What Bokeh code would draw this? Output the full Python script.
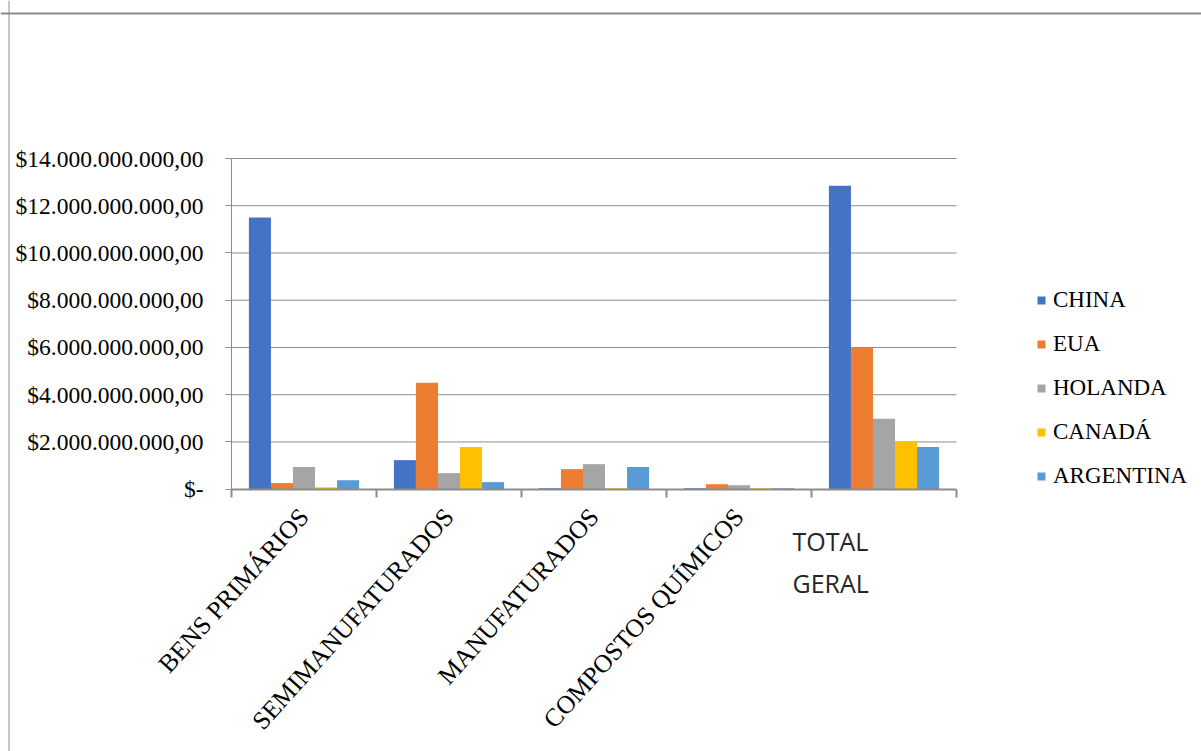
from bokeh.plotting import figure
from bokeh.models import (ColumnDataSource, Range1d, LinearAxis, FixedTicker,
                          Legend, LegendItem, Label, Span)
from bokeh.transform import dodge
from bokeh.embed import file_html
from bokeh.resources import INLINE
import math

# Export values by product group (US$)
categories = ["BENS PRIMÁRIOS", "SEMIMANUFATURADOS", "MANUFATURADOS", "COMPOSTOS QUÍMICOS", "TOTAL GERAL"]
china = [11.50e9, 1.23e9, 0.04e9, 0.04e9, 12.85e9]
eua = [0.26e9, 4.51e9, 0.85e9, 0.21e9, 6.00e9]
holanda = [0.94e9, 0.68e9, 1.06e9, 0.17e9, 2.98e9]
canada = [0.08e9, 1.79e9, 0.04e9, 0.04e9, 2.04e9]
argentina = [0.38e9, 0.30e9, 0.94e9, 0.04e9, 1.79e9]

series_names = ["CHINA", "EUA", "HOLANDA", "CANADÁ", "ARGENTINA"]
series_colors = ["#4472C4", "#ED7D31", "#A5A5A5", "#FFC000", "#5B9BD5"]

y_ticks = [0, 2000000000, 4000000000, 6000000000, 8000000000, 10000000000, 12000000000, 14000000000]
y_tick_labels = ["$-", "$2.000.000.000,00", "$4.000.000.000,00", "$6.000.000.000,00",
                 "$8.000.000.000,00", "$10.000.000.000,00", "$12.000.000.000,00", "$14.000.000.000,00"]

n_cat = len(categories)
y_max = y_ticks[-1]

# each category occupies one unit on the x scale; its centre sits at i + 0.5
centres = [i + 0.5 for i in range(n_cat)]
source = ColumnDataSource(dict(xc=centres, cat=categories, CHINA=china, EUA=eua, HOLANDA=holanda,
                               CANADA=canada, ARGENTINA=argentina))
columns = ["CHINA", "EUA", "HOLANDA", "CANADA", "ARGENTINA"]

SERIF = "Liberation Serif"
GRID = "#8C8C8C"

# page geometry (pixels): the plotting area sits inside a full-page frame
W, H = 1201, 751
AREA_L, AREA_R, AREA_T, AREA_B = 231, 956, 158, 488.7
ux = (AREA_R - AREA_L) / n_cat          # pixels per category
uy = (AREA_B - AREA_T) / y_max          # pixels per dollar
x_range = Range1d(-AREA_L / ux, n_cat + (W - AREA_R) / ux)
y_range = Range1d(-(H - AREA_B) / uy, y_max + AREA_T / uy)

p = figure(x_range=x_range, y_range=y_range, width=W, height=H,
           min_border=0, x_axis_location=None, y_axis_location=None,
           output_backend="svg", toolbar_location=None)
p.outline_line_color = None
p.background_fill_color = "white"
p.border_fill_color = "white"
p.xgrid.visible = False
p.ygrid.visible = False

# chart border (top and left edges)
p.add_layout(Span(location=13, dimension="width", location_units="canvas",
                  line_color=GRID, line_width=2))
p.add_layout(Span(location=8.5, dimension="height", location_units="canvas",
                  line_color=GRID, line_width=1))

# horizontal gridlines across the category span
grid_src = ColumnDataSource(dict(y=y_ticks[1:], x0=[0] * (len(y_ticks) - 1), x1=[n_cat] * (len(y_ticks) - 1)))
p.segment(x0="x0", x1="x1", y0="y", y1="y", source=grid_src, line_color=GRID, line_width=1)

# bars
bar_w = 0.152
offsets = [-2 * bar_w, -bar_w, 0, bar_w, 2 * bar_w]
renderers = []
for col, name, color, off in zip(columns, series_names, series_colors, offsets):
    r = p.vbar(x=dodge("xc", off), top=col, width=bar_w, bottom=0,
               source=source, fill_color=color, line_color=None)
    renderers.append((name, r))

# y axis
yaxis = LinearAxis(ticker=FixedTicker(ticks=y_ticks), fixed_location=0, bounds=(0, y_max))
yaxis.major_label_overrides = {t: lab for t, lab in zip(y_ticks, y_tick_labels)}
yaxis.major_label_text_font = SERIF
yaxis.major_label_text_font_size = "23.5px"
yaxis.major_label_text_color = "black"
yaxis.major_label_standoff = 22
yaxis.axis_line_color = GRID
yaxis.major_tick_line_color = GRID
yaxis.major_tick_out = 6
yaxis.major_tick_in = 0
yaxis.minor_tick_line_color = None
p.add_layout(yaxis, "left")

# x axis: slanted labels at the category centres, tick marks on the category boundaries
total_idx = categories.index("TOTAL GERAL")
slanted = centres[:total_idx]
xaxis = LinearAxis(ticker=FixedTicker(ticks=slanted, minor_ticks=list(range(n_cat + 1))),
                   fixed_location=0, bounds=(0, n_cat))
xaxis.major_label_overrides = {c: lab for c, lab in zip(slanted, categories)}
xaxis.major_label_orientation = math.radians(48)
xaxis.major_label_text_font = SERIF
xaxis.major_label_text_font_size = "25.5px"
xaxis.major_label_text_color = "black"
xaxis.major_label_standoff = 15
xaxis.axis_line_color = GRID
xaxis.axis_line_width = 2
xaxis.major_tick_line_color = None
xaxis.major_tick_out = 0
xaxis.major_tick_in = 0
xaxis.minor_tick_line_color = GRID
xaxis.minor_tick_line_width = 2
xaxis.minor_tick_out = 8
xaxis.minor_tick_in = 0
p.add_layout(xaxis, "below")

# the last category is labelled horizontally on two lines
for i, word in enumerate(categories[total_idx].split(" ")):
    p.add_layout(Label(x=total_idx, y=0, x_offset=-19, y_offset=-52 - 42 * i,
                       text=word, text_font="Open Sans", text_font_size="25px",
                       text_color="#262626", text_align="left", text_baseline="alphabetic"))

# legend
legend = Legend(items=[LegendItem(label=n, renderers=[r]) for n, r in renderers],
                location=(1036, 262.5), orientation="vertical",
                glyph_width=10, glyph_height=10, label_height=20, label_standoff=7,
                spacing=18, padding=0, margin=0,
                label_text_font=SERIF, label_text_font_size="23px", label_text_color="black",
                border_line_color=None, background_fill_alpha=0)
p.add_layout(legend, "center")

open("out.html", "w").write(file_html(p, INLINE))
